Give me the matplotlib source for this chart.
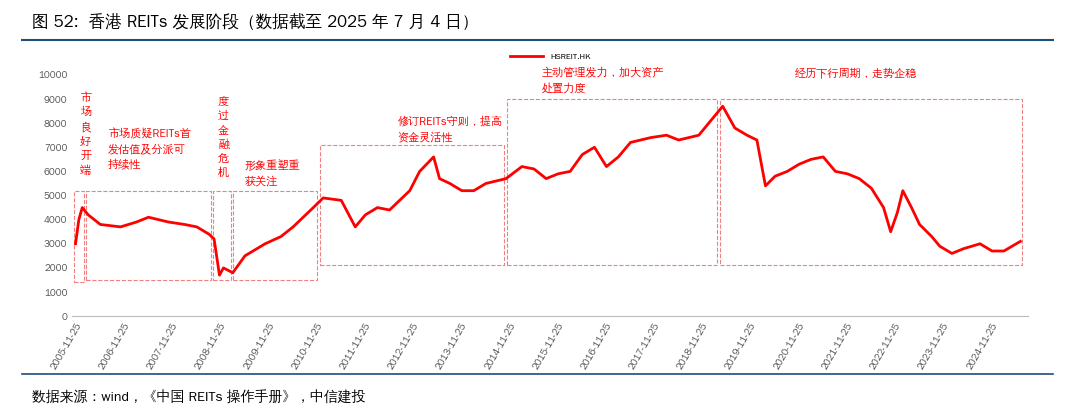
import pandas as pd
import matplotlib.pyplot as plt
import matplotlib.dates as mdates
from matplotlib.patches import Rectangle

plt.rcParams['font.family'] = ['WenQuanYi Zen Hei', 'Noto Sans CJK SC', 'DejaVu Sans']

# values (approx)
dates = ['2005-11-25', '2005-12-20', '2006-01-15', '2006-03-01', '2006-06-01', '2006-11-01', '2007-03-01',
         '2007-06-01', '2007-11-01', '2008-03-01', '2008-06-01', '2008-09-01', '2008-10-10', '2008-11-20',
         '2008-12-20', '2009-03-01', '2009-06-01', '2009-11-01', '2010-03-01', '2010-06-01', '2010-11-01',
         '2011-01-15', '2011-06-01', '2011-09-15', '2011-12-01', '2012-03-01', '2012-06-01', '2012-11-01',
         '2013-01-15', '2013-05-01', '2013-06-15', '2013-09-01', '2013-12-01', '2014-03-01', '2014-06-01',
         '2014-11-01', '2015-03-01', '2015-06-01', '2015-09-01', '2015-12-01', '2016-03-01', '2016-06-01',
         '2016-09-01', '2016-12-01', '2017-03-01', '2017-06-01', '2017-11-01', '2018-03-01', '2018-06-01',
         '2018-11-01', '2019-01-15', '2019-05-01', '2019-08-01', '2019-11-01', '2020-01-15', '2020-03-20',
         '2020-06-01', '2020-09-01', '2020-12-01', '2021-03-01', '2021-06-01', '2021-09-01', '2021-12-01',
         '2022-03-01', '2022-06-01', '2022-09-01', '2022-10-25', '2022-12-15', '2023-01-25', '2023-04-01',
         '2023-06-01', '2023-09-01', '2023-11-01', '2024-02-01', '2024-05-01', '2024-09-01', '2024-12-01',
         '2025-03-01', '2025-07-04']
values = [3000, 4000, 4500, 4200, 3800, 3700, 3900, 4100, 3900, 3800, 3700, 3400, 3200, 1700,
          2000, 1800, 2500, 3000, 3300, 3700, 4500, 4900, 4800, 3700, 4200, 4500, 4400, 5200,
          6000, 6600, 5700, 5500, 5200, 5200, 5500, 5700, 6200, 6100, 5700, 5900, 6000, 6700,
          7000, 6200, 6600, 7200, 7400, 7500, 7300, 7500, 8000, 8700, 7800, 7500, 7300, 5400,
          5800, 6000, 6300, 6500, 6600, 6000, 5900, 5700, 5300, 4500, 3500, 4300, 5200, 4500,
          3800, 3300, 2900, 2600, 2800, 3000, 2700, 2700, 3100]

boxes = [('2005-11-10', '2006-02-01', 1400, 5200), ('2006-02-10', '2008-09-20', 1500, 5200),
         ('2008-10-01', '2009-02-15', 1500, 5200), ('2009-03-01', '2010-12-01', 1500, 5200),
         ('2010-12-20', '2014-10-20', 2100, 7100), ('2014-11-10', '2019-03-15', 2100, 9000),
         ('2019-04-10', '2025-07-20', 2100, 9000)]
labels = [('2006-01-01', 9300, '市\n场\n良\n好\n开\n端'),
          ('2006-08-01', 7800, '市场质疑REITs首\n发估值及分派可\n持续性'),
          ('2008-11-10', 9100, '度\n过\n金\n融\n危\n机'),
          ('2009-06-01', 6500, '形象重塑重\n获关注'),
          ('2012-08-01', 8300, '修订REITs守则，提高\n资金灵活性'),
          ('2015-08-01', 10300, '主动管理发力，加大资产\n处置力度'),
          ('2020-11-01', 10300, '经历下行周期，走势企稳')]

x = pd.to_datetime(dates)
fig = plt.figure(figsize=(10.8, 4.16), dpi=100)
ax = fig.add_axes([0.067, 0.24, 0.885, 0.58])
ax.plot(x, values, color='#ff0000', lw=2, label='HSREIT.HK')
ax.set_ylim(0, 10000)
ax.set_yticks(range(0, 10001, 1000))
ax.set_xlim(pd.Timestamp('2005-11-01'), pd.Timestamp('2025-09-01'))
ticks = pd.to_datetime([f'{y}-11-25' for y in range(2005, 2025)])
ax.set_xticks(ticks)
ax.set_xticklabels([t.strftime('%Y-%m-%d') for t in ticks], rotation=60, ha='right', rotation_mode='anchor')
ax.tick_params(labelsize=7, colors='#555555', length=0)
for s in ['top', 'right', 'left']:
    ax.spines[s].set_visible(False)
ax.spines['bottom'].set_color('#bbbbbb')

for a, b, y0, y1 in boxes:
    xa, xb = mdates.date2num(pd.Timestamp(a)), mdates.date2num(pd.Timestamp(b))
    ax.add_patch(Rectangle((xa, y0), xb - xa, y1 - y0, fill=False, ls='--', lw=0.8, ec='#f08080'))
for d, y, t in labels:
    ax.text(pd.Timestamp(d), y, t, color='#ff0000', fontsize=8, va='top', linespacing=1.5)

ax.legend(loc='upper center', bbox_to_anchor=(0.5, 1.12), frameon=False, fontsize=6, handlelength=4)

fig.text(0.03, 0.935, '图 52:  香港 REITs 发展阶段（数据截至 2025 年 7 月 4 日）', fontsize=12, fontweight='bold')
fig.add_artist(plt.Line2D([0.02, 0.975], [0.905, 0.905], color='#1f4e79', lw=1.5))
fig.add_artist(plt.Line2D([0.02, 0.975], [0.1, 0.1], color='#1f4e79', lw=1.2))
fig.text(0.03, 0.035, '数据来源：wind，《中国 REITs 操作手册》，中信建投', fontsize=10, style='italic')
fig.savefig('out.png')
